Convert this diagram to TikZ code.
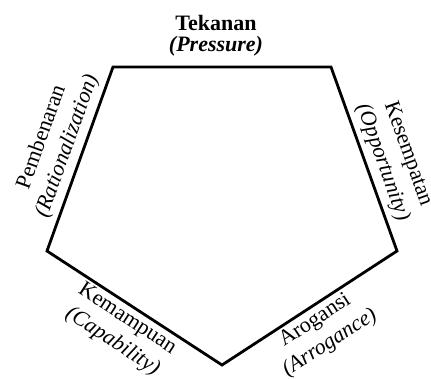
\documentclass[tikz,border=0pt]{standalone}
\usepackage{fontspec}
\setmainfont{Liberation Serif}
\usepackage{tikz}
\tikzset{
  rim/.style={draw=black, line width=2.8pt, line join=miter},
  sidelabel/.style={font=\fontsize{22}{27}\selectfont, align=center, inner sep=1pt, sloped},
  headlabel/.style={font=\fontsize{22}{21}\selectfont\bfseries, align=center, inner sep=0pt},
}

\begin{document}
\begin{tikzpicture}[x=1pt,y=1pt]
\useasboundingbox (0,0) rectangle (431,378);
\coordinate (tl) at (113,311);
\coordinate (tr) at (331,311);
\coordinate (r) at (397,127);
\coordinate (b) at (222,13);
\coordinate (l) at (47,127);
\draw[rim] (tl) -- (tr) -- (r) -- (b) -- (l) -- cycle;
\node[headlabel, anchor=north] (pressure) at (216,363) {Tekanan\\\textit{(Pressure)}};
\path (l) -- node[sidelabel, above=5pt, pos=0.54] (rationalization) {Pembenaran\\\textit{(Rationalization)}} (tl);
\path (tr) -- node[sidelabel, above=5pt, pos=0.55] (opportunity) {Kesempatan\\\textit{(Opportunity)}} (r);
\path (l) -- node[sidelabel, below=3pt, pos=0.5] (capability) {Kemampuan\\\textit{(Capability)}} (b);
\path (b) -- node[sidelabel, below=3pt, pos=0.49] (arrogance) {Arogansi\\\textit{(Arrogance)}} (r);
\end{tikzpicture}
\end{document}
